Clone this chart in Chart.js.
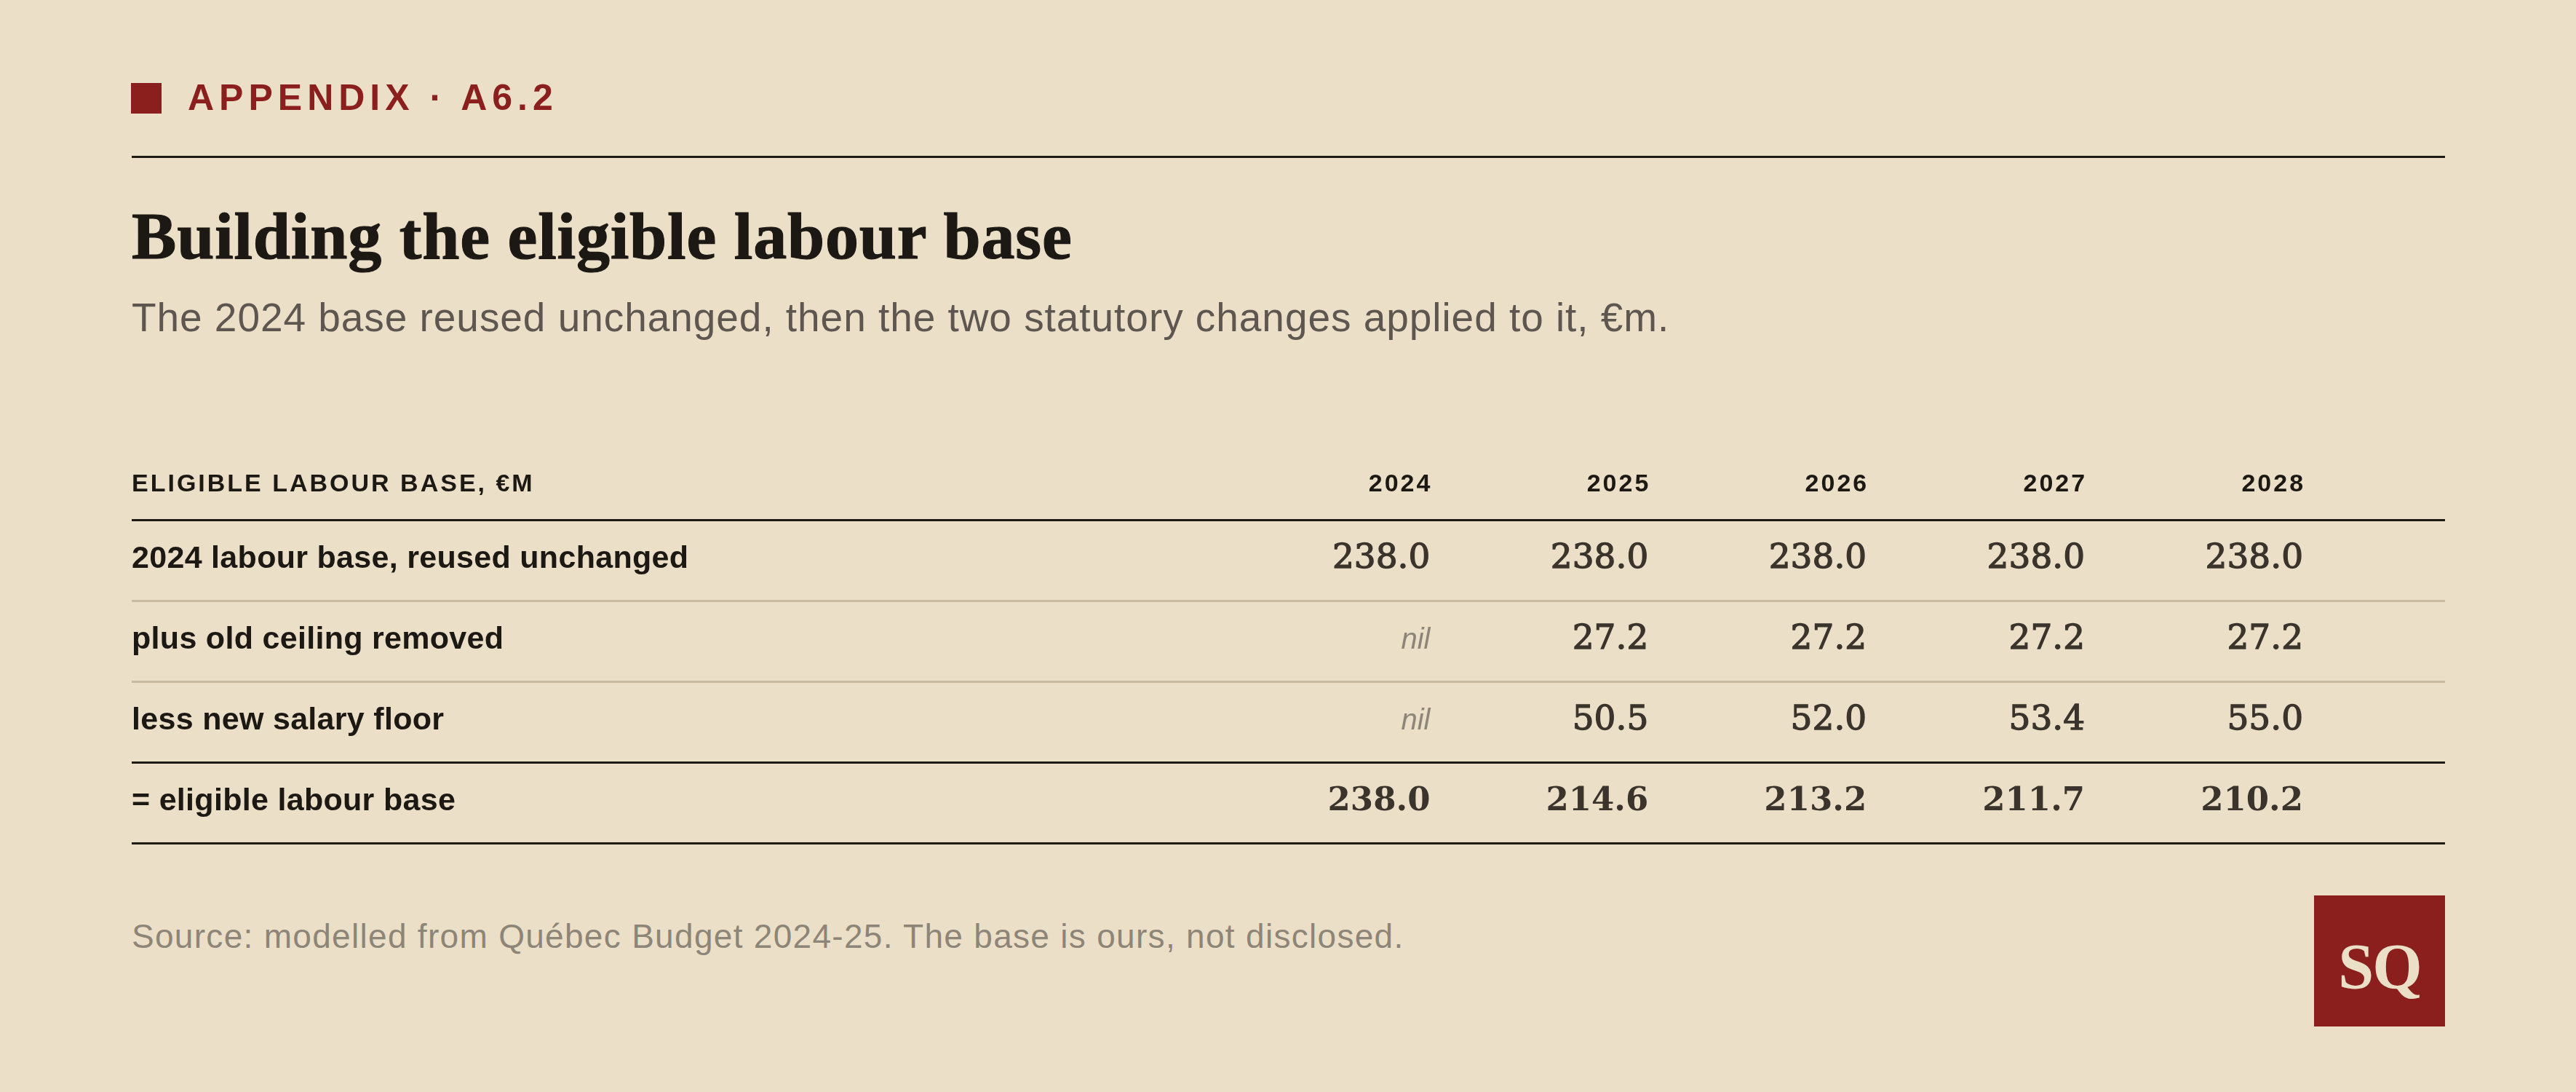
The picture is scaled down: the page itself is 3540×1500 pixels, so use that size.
<!DOCTYPE html>
<html>
<head>
<meta charset="utf-8">
<title>Building the eligible labour base</title>
<script src="https://cdn.jsdelivr.net/npm/chart.js@4.4.1/dist/chart.umd.min.js"></script>
<style>
  html, body { margin: 0; padding: 0; }
  body {
    width: 3540px; height: 1500px; position: relative; overflow: hidden;
    background: #ebdfc7;
    font-family: "Liberation Sans", Arial, sans-serif;
  }
  .kicker-mark { position: absolute; left: 180px; top: 114px; width: 42px; height: 42px; background: #8b1f1d; }
  .kicker {
    position: absolute; left: 258px; top: 109px; white-space: nowrap;
    font-size: 50px; line-height: 50px; font-weight: 700; letter-spacing: 7px; color: #8b1f1d;
  }
  .rule { position: absolute; left: 181px; top: 214px; width: 3179px; height: 3px; background: #1e1b17; }
  h1 {
    position: absolute; margin: 0; left: 181px; top: 278px; white-space: nowrap;
    font: 700 92px/92px "Liberation Serif", serif; letter-spacing: 0.8px; color: #1c1915;
    -webkit-text-stroke: 1.2px #1c1915;
  }
  .sub {
    position: absolute; left: 181px; top: 409px; white-space: nowrap;
    font-size: 55px; line-height: 55px; letter-spacing: 0.95px; color: #5e5650;
  }
  .chart-wrap { position: absolute; left: 181px; top: 583px; width: 3179px; height: 600px; }
  .source {
    position: absolute; left: 181px; top: 1263px; white-space: nowrap;
    font-size: 46px; line-height: 46px; letter-spacing: 1.3px; color: #8e8579;
  }
  .logo {
    position: absolute; left: 3180px; top: 1230px; width: 180px; height: 180px; overflow: hidden;
    background: #8b1f1d; color: #ecdfc8; text-align: center;
    font: 700 88px/196px "Liberation Serif", serif; letter-spacing: -2px;
  }
</style>
</head>
<body>
  <div class="kicker-mark"></div>
  <div class="kicker">APPENDIX · A6.2</div>
  <div class="rule"></div>
  <h1>Building the eligible labour base</h1>
  <div class="sub">The 2024 base reused unchanged, then the two statutory changes applied to it, €m.</div>
  <div class="chart-wrap"><canvas id="baseTable"></canvas></div>
  <div class="source">Source: modelled from Québec Budget 2024-25. The base is ours, not disclosed.</div>
  <div class="logo">SQ</div>

<script>
// ─── DATA ───
const years = [2024, 2025, 2026, 2027, 2028];
const headerLabel = 'ELIGIBLE LABOUR BASE, €M';
const rowLabels = [
  '2024 labour base, reused unchanged',
  'plus old ceiling removed',
  'less new salary floor',
  '= eligible labour base'
];
const baseValues = [238.0, 238.0, 238.0, 238.0, 238.0];
const ceilingValues = [null, 27.2, 27.2, 27.2, 27.2];   // null = nil
const floorValues = [null, 50.5, 52.0, 53.4, 55.0];
const eligibleValues = [238.0, 214.6, 213.2, 211.7, 210.2];

const rowValues = [baseValues, ceilingValues, floorValues, eligibleValues];

const INK = '#1c1915';
const NUM_INK = '#3a342d';
const DARK_RULE = '#1e1b17';
const LIGHT_RULE = '#c8bba2';

// ─── CELL TEXT (placed from the chart's own scales / point elements) ───
const tableText = {
  id: 'tableText',
  afterDatasetsDraw(chart) {
    const { ctx, chartArea, scales: { x, y } } = chart;
    ctx.save();

    // header row
    const headY = y.getPixelForValue(0) + 16;
    ctx.fillStyle = INK;
    ctx.font = '700 34px "Liberation Sans", Arial, sans-serif';
    ctx.letterSpacing = '3px';
    ctx.textAlign = 'left';
    ctx.fillText(headerLabel, chartArea.left, headY);
    ctx.textAlign = 'right';
    years.forEach(yr => ctx.fillText(String(yr), x.getPixelForValue(yr) + 3, headY));

    // body rows
    chart.data.datasets.forEach((ds, r) => {
      const meta = chart.getDatasetMeta(r);
      const isTotal = r === rowLabels.length - 1;
      const baseY = meta.data[0].y + 10;

      ctx.textAlign = 'left';
      ctx.fillStyle = INK;
      ctx.letterSpacing = '0.3px';
      ctx.font = '700 43px "Liberation Sans", Arial, sans-serif';
      ctx.fillText(rowLabels[r], chartArea.left, baseY);
      ctx.letterSpacing = '0px';

      ctx.textAlign = 'right';
      meta.data.forEach((pt, i) => {
        const v = ds.data[i].v;
        if (v === null) {
          ctx.fillStyle = '#8e8579';
          ctx.font = 'italic 400 40px "Liberation Sans", Arial, sans-serif';
          ctx.fillText('nil', pt.x, pt.y + 10);
        } else if (isTotal) {
          ctx.fillStyle = NUM_INK;
          ctx.font = '700 45px "DejaVu Serif", serif';
          ctx.fillText(v.toFixed(1), pt.x, pt.y + 10);
        } else {
          // semibold look: regular face with a thin outline
          ctx.fillStyle = NUM_INK;
          ctx.strokeStyle = NUM_INK;
          ctx.lineWidth = 1.3;
          ctx.font = '400 47px "DejaVu Serif", serif';
          ctx.fillText(v.toFixed(1), pt.x, pt.y + 10);
          ctx.strokeText(v.toFixed(1), pt.x, pt.y + 10);
        }
      });
    });

    ctx.restore();
  }
};

const ruleColor = (ctx) => {
  const i = ctx.index;
  if (i === 0) return 'rgba(0,0,0,0)';
  if (i === 2 || i === 3) return LIGHT_RULE;
  return DARK_RULE;
};

new Chart(document.getElementById('baseTable'), {
  type: 'scatter',
  data: {
    datasets: rowLabels.map((label, r) => ({
      label,
      data: years.map((yr, i) => ({ x: yr, y: label, v: rowValues[r][i] })),
      pointRadius: 0,
      pointHoverRadius: 0
    }))
  },
  options: {
    responsive: true,
    maintainAspectRatio: false,
    animation: false,
    events: [],
    layout: { padding: { top: 20, bottom: 25, left: 0, right: 0 } },
    plugins: { legend: { display: false }, tooltip: { enabled: false } },
    scales: {
      x: { type: 'linear', display: false, min: 2018.05, max: 2028.65 },
      y: {
        type: 'category',
        labels: [headerLabel, ...rowLabels],
        offset: true,
        grid: { offset: true, drawTicks: false, color: ruleColor, lineWidth: 3 },
        border: { display: false },
        ticks: { display: false }
      }
    }
  },
  plugins: [tableText]
});
</script>
</body>
</html>
